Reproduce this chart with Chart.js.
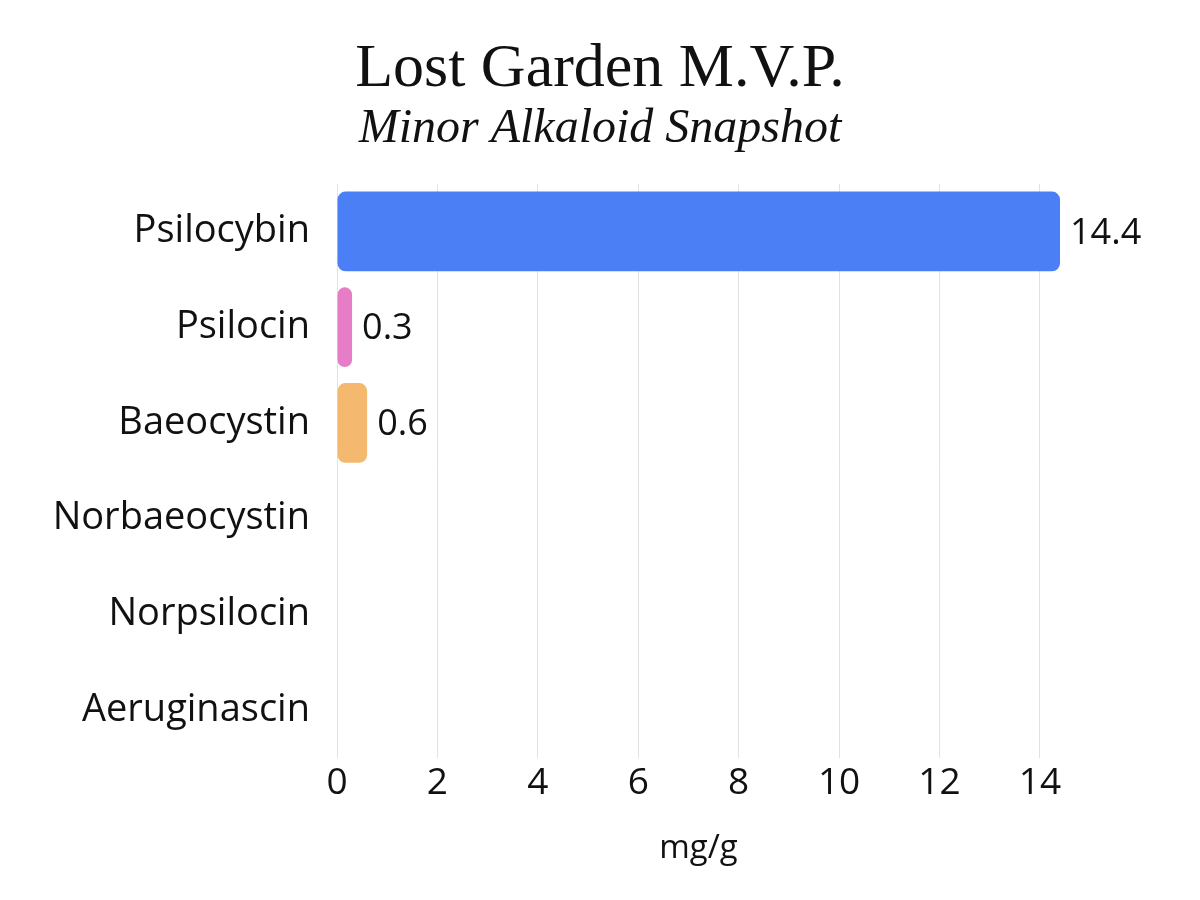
<!DOCTYPE html>
<html>
<head>
<meta charset="utf-8">
<script src="https://cdn.jsdelivr.net/npm/chart.js@4/dist/chart.umd.min.js"></script>
<style>
  html, body { margin: 0; padding: 0; background: #fff; }
  #wrap { width: 1200px; height: 900px; }
</style>
</head>
<body>
<div id="wrap"><canvas id="alkaloidChart" width="1200" height="900"></canvas></div>
<script>
var compounds = ["Psilocybin", "Psilocin", "Baeocystin", "Norbaeocystin", "Norpsilocin", "Aeruginascin"];
var mgPerGram = [14.4, 0.3, 0.6, 0, 0, 0];
var barColors = ["#4a7ff6", "#e77cc7", "#f4b96e", "#8fd19e", "#9b8ae6", "#6cc4d9"];
var xTicks = [0, 2, 4, 6, 8, 10, 12, 14];

// value labels at the end of each non-zero bar
var valueLabels = {
  id: 'valueLabels',
  afterDatasetsDraw: function(chart) {
    var ctx = chart.ctx;
    var meta = chart.getDatasetMeta(0);
    ctx.save();
    ctx.font = '36px "Open Sans"';
    ctx.fillStyle = '#111';
    ctx.textAlign = 'left';
    ctx.textBaseline = 'middle';
    meta.data.forEach(function(bar, i) {
      var v = mgPerGram[i];
      if (!v) return;
      ctx.fillText(String(v), bar.x + 10, bar.y + 2);
    });
    ctx.restore();
  }
};

var ctx = document.getElementById("alkaloidChart").getContext('2d');
var myChart = new Chart(ctx, {
  type: 'bar',
  data: {
    labels: compounds,
    datasets: [{
      data: mgPerGram,
      backgroundColor: barColors,
      borderRadius: 8,
      borderSkipped: false,
      barPercentage: 0.925,
      categoryPercentage: 0.9
    }]
  },
  options: {
    indexAxis: 'y',
    responsive: false,
    animation: false,
    // equal side padding keeps the title centred on the canvas
    layout: { padding: { left: 20, right: 20, top: 39, bottom: 32 } },
    plugins: {
      legend: { display: false },
      tooltip: { enabled: false },
      title: {
        display: true,
        text: 'Lost Garden M.V.P.',
        color: '#111',
        font: { family: '"Liberation Serif", serif', size: 62, weight: 'normal', lineHeight: 1.0 },
        padding: { top: 0, bottom: 0 }
      },
      subtitle: {
        display: true,
        text: 'Minor Alkaloid Snapshot',
        color: '#111',
        font: { family: '"Liberation Serif", serif', size: 48, style: 'italic', weight: 'normal' },
        padding: { top: 0, bottom: 25 }
      }
    },
    scales: {
      x: {
        min: 0,
        max: 14.4,
        afterBuildTicks: function(scale) {
          scale.ticks = xTicks.map(function(v) { return { value: v }; });
        },
        grid: { color: '#e2e2e2', drawTicks: false },
        border: { display: false },
        ticks: {
          color: '#111',
          padding: 3,
          font: { family: '"Open Sans"', size: 37 }
        },
        title: {
          display: true,
          text: 'mg/g',
          color: '#111',
          padding: { top: 20, bottom: 0 },
          font: { family: '"Open Sans"', size: 33 }
        }
      },
      y: {
        afterFit: function(scale) { scale.width = 317; },
        grid: { display: false, drawTicks: false },
        border: { display: false },
        ticks: {
          color: '#111',
          padding: 27,
          font: { family: '"Open Sans"', size: 38 }
        }
      },
      // empty right-hand axis: leaves room for the "14.4" label
      yRight: {
        type: 'category',
        position: 'right',
        afterFit: function(scale) { scale.width = 120; },
        grid: { display: false, drawTicks: false },
        border: { display: false },
        ticks: { display: false }
      }
    }
  },
  plugins: [valueLabels]
});
</script>
</body>
</html>
